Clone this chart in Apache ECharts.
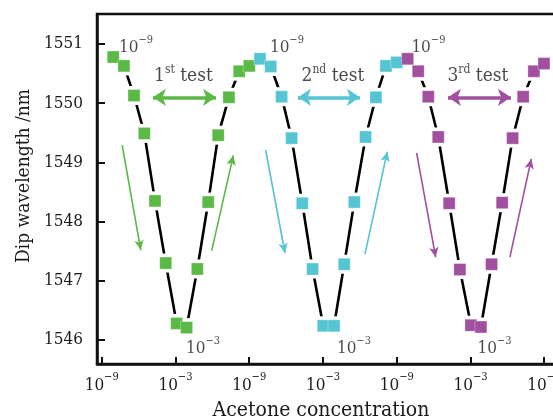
<!DOCTYPE html>
<html><head><meta charset="utf-8">
<script src="https://cdn.jsdelivr.net/npm/echarts@6/dist/echarts.min.js"></script>
<style>html,body{margin:0;padding:0;background:#fff}#c{width:553px;height:419px}</style>
</head><body><div id="c"></div>
<script>
// x axis: concatenated log-concentration scale, one unit = one decade
const xTickValues = [0, 6, 12, 18, 24, 30, 36];
const xTickExponents = ['−9', '−3', '−9', '−3', '−9', '−3', '−9'];
const yTickValues = [1546, 1547, 1548, 1549, 1550, 1551];

const test1X = [0.94, 1.81, 2.63, 3.47, 4.34, 5.21, 6.10, 6.91, 7.78, 8.67, 9.48, 10.35, 11.19, 12.01];
const test1Y = [1550.78, 1550.63, 1550.13, 1549.49, 1548.35, 1547.30, 1546.28, 1546.21, 1547.20, 1548.33, 1549.46, 1550.10, 1550.54, 1550.63];
const test2X = [12.88, 13.75, 14.64, 15.45, 16.32, 17.16, 18.02, 18.90, 19.73, 20.55, 21.47, 22.31, 23.13, 24.00];
const test2Y = [1550.75, 1550.62, 1550.11, 1549.41, 1548.31, 1547.20, 1546.24, 1546.24, 1547.28, 1548.33, 1549.43, 1550.10, 1550.63, 1550.69];
const test3X = [24.89, 25.75, 26.57, 27.38, 28.27, 29.14, 30.04, 30.85, 31.72, 32.58, 33.43, 34.29, 35.16, 35.98];
const test3Y = [1550.75, 1550.54, 1550.11, 1549.43, 1548.31, 1547.19, 1546.25, 1546.22, 1547.28, 1548.32, 1549.41, 1550.11, 1550.54, 1550.67];

const testNames = ['1', '2', '3'];
const testOrdinals = ['st', 'nd', 'rd'];
const testLabelX = [6.65, 18.81, 30.61];
const testLabelY = 1550.48;
const startLabelX = [2.8, 15.07, 26.58];
const startLabelY = 1550.98;
const endLabelX = [8.24, 20.52, 31.95];
const endLabelY = 1545.89;
// direction arrows [x1, y1, x2, y2]
const downArrows = [[1.67, 1549.29, 3.18, 1547.52], [13.34, 1549.21, 14.91, 1547.47], [25.62, 1549.16, 27.17, 1547.40]];
const upArrows = [[8.95, 1547.51, 10.71, 1549.12], [21.42, 1547.45, 23.23, 1549.18], [33.21, 1547.40, 34.95, 1549.06]];
const doubleArrows = [[4.17, 9.30], [15.97, 21.01], [28.17, 33.29]];
const doubleArrowY = 1550.10;

const colors = ['#5bb946', '#55c5d3', '#a0509e'];
const FONT = '"DejaVu Serif Condensed", "DejaVu Serif", serif';
const TXT = '#1a1a1a';

const tests = [[test1X, test1Y], [test2X, test2Y], [test3X, test3Y]];
const zip = (xs, ys) => xs.map((x, i) => [x, ys[i]]);

const series = [];
tests.forEach((t, i) => {
  const d = zip(t[0], t[1]);
  series.push({type: 'line', data: d, symbol: 'none', showSymbol: false, silent: true, z: 2,
    lineStyle: {color: '#000', width: 2.6}});
  series.push({type: 'scatter', data: d, symbol: 'rect', symbolSize: 19, silent: true, z: 3,
    itemStyle: {color: '#fff', opacity: 1}});
  series.push({type: 'scatter', data: d, symbol: 'rect', symbolSize: 12, silent: true, z: 4,
    itemStyle: {color: colors[i], opacity: 1, borderColor: 'rgba(255,255,255,0.3)', borderWidth: 1}});
});

const supRich = {
  b: {fontFamily: FONT, fontSize: 17, color: TXT, lineHeight: 22, verticalAlign: 'bottom'},
  s: {fontFamily: FONT, fontSize: 11, color: TXT, lineHeight: 15, verticalAlign: 'top'}
};
const testRich = {
  b: {fontFamily: FONT, fontSize: 19, color: TXT, lineHeight: 22, verticalAlign: 'bottom'},
  s: {fontFamily: FONT, fontSize: 12, color: TXT, lineHeight: 14, verticalAlign: 'top'}
};

const annData = [];
for (let i = 0; i < 3; i++) {
  annData.push({value: [testLabelX[i], testLabelY],
    label: {formatter: '{b|' + testNames[i] + '}{s|' + testOrdinals[i] + '}{b| test}', rich: testRich}});
  annData.push({value: [startLabelX[i], startLabelY],
    label: {formatter: '{b|10}{s|−9}', rich: supRich}});
  annData.push({value: [endLabelX[i], endLabelY],
    label: {formatter: '{b|10}{s|−3}', rich: supRich}});
}

const thinLines = [];
downArrows.concat(upArrows).forEach((a, k) => {
  const c = colors[k % 3];
  thinLines.push([{coord: [a[0], a[1]], lineStyle: {color: c}, itemStyle: {color: c}}, {coord: [a[2], a[3]]}]);
});
const thickLines = doubleArrows.map((a, i) => [
  {coord: [a[0], doubleArrowY], lineStyle: {color: colors[i]}, itemStyle: {color: colors[i]}},
  {coord: [a[1], doubleArrowY]}
]);

series.push({type: 'scatter', data: annData, symbolSize: 0, silent: true, z: 6,
  label: {show: true, position: 'inside'},
  markLine: {silent: true, animation: false, symbol: ['none', 'arrow'], symbolSize: [7, 10],
    label: {show: false}, lineStyle: {type: 'solid', width: 1.6}, data: thinLines}});
series.push({type: 'scatter', data: [], silent: true, z: 6,
  markLine: {silent: true, animation: false, symbol: ['arrow', 'arrow'], symbolSize: [13, 13],
    label: {show: false}, lineStyle: {type: 'solid', width: 3.5}, data: thickLines}});

const chart = echarts.init(document.getElementById('c'), null, {renderer: 'canvas'});
chart.setOption({
  animation: false,
  backgroundColor: '#fff',
  grid: {left: 97, top: 14, width: 460, height: 350, containLabel: false, outerBoundsMode: 'none',
    show: true, borderColor: '#111', borderWidth: 2.5, backgroundColor: 'transparent'},
  xAxis: {
    type: 'value', min: -0.38, max: 37.04,
    name: 'Acetone concentration', nameLocation: 'middle', nameGap: 36,
    nameTextStyle: {fontFamily: FONT, fontSize: 21, color: TXT, padding: [0, 12, 0, 0]},
    axisLine: {show: true, onZero: false, lineStyle: {color: '#111', width: 2.5}},
    axisTick: {show: true, inside: true, length: 7, lineStyle: {color: '#111', width: 2}, customValues: xTickValues},
    axisLabel: {show: true, margin: 8, customValues: xTickValues,
      formatter: (v) => { const i = xTickValues.indexOf(Math.round(v)); return '{b|10}{s|' + xTickExponents[i] + '}'; },
      rich: supRich},
    splitLine: {show: false}
  },
  yAxis: {
    type: 'value', min: 1545.595, max: 1551.507,
    name: 'Dip wavelength /nm', nameLocation: 'middle', nameGap: 62,
    nameTextStyle: {fontFamily: FONT, fontSize: 19, color: TXT, padding: [0, 0, 0, 26]},
    axisLine: {show: true, onZero: false, lineStyle: {color: '#111', width: 2.5}},
    axisTick: {show: true, inside: true, length: 8, lineStyle: {color: '#111', width: 2}, customValues: yTickValues},
    axisLabel: {show: true, margin: 14, customValues: yTickValues, fontFamily: FONT, fontSize: 17, color: TXT,
      formatter: (v) => String(Math.round(v))},
    splitLine: {show: false}
  },
  series: series
});
</script>
</body></html>
